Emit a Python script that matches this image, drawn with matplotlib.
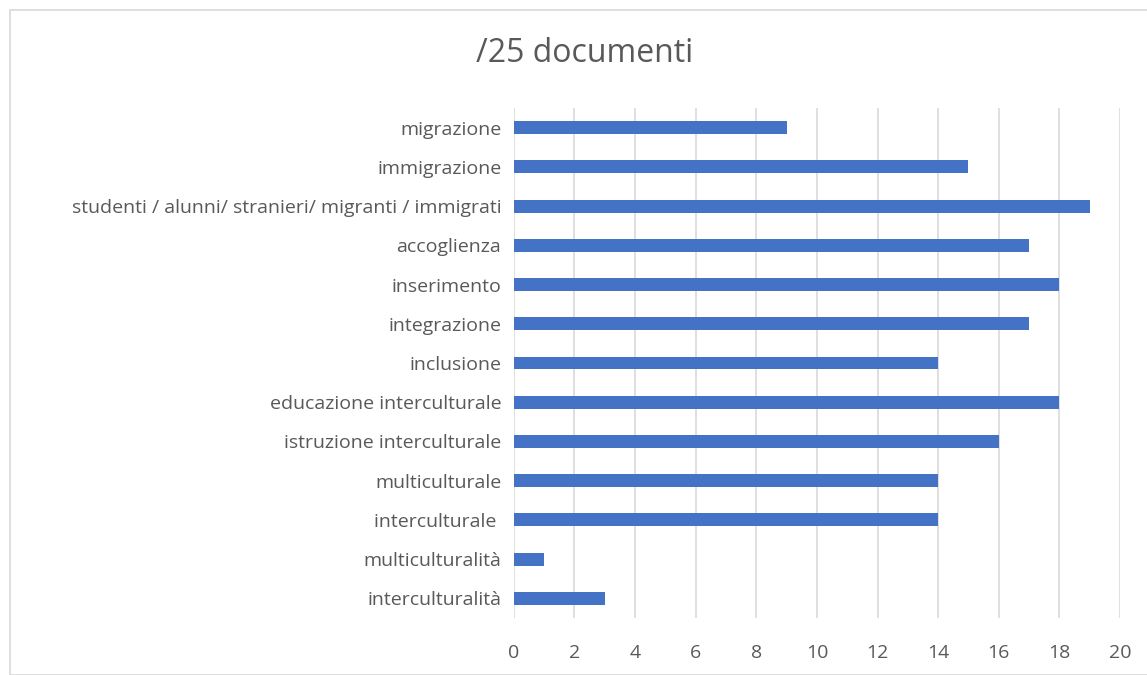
import matplotlib.pyplot as plt
from matplotlib.patches import Rectangle

categorie = ["interculturalità", "multiculturalità", "interculturale ", "multiculturale",
             "istruzione interculturale", "educazione interculturale", "inclusione",
             "integrazione", "inserimento", "accoglienza",
             "studenti / alunni/ stranieri/ migranti / immigrati", "immigrazione", "migrazione"]
valori = [3, 1, 14, 14, 16, 18, 14, 17, 18, 17, 19, 15, 9]
tick_x = [0, 2, 4, 6, 8, 10, 12, 14, 16, 18, 20]

plt.rcParams['font.family'] = ['Open Sans', 'DejaVu Sans']
testo = "#595959"

fig = plt.figure(figsize=(11.47, 6.75), dpi=100)
fig.patches.append(Rectangle((10 / 1147, 0), 1.2, 1 - 10 / 675, transform=fig.transFigure,
                             fill=False, edgecolor="#d9d9d9", linewidth=1.2))
ax = fig.add_axes([0.448, 0.0844, 0.5285, 0.7556])

ax.barh(range(len(categorie)), valori, height=0.33, color="#4472C4", zorder=3)
ax.set_ylim(-0.5, len(categorie) - 0.5)
ax.set_xlim(0, 20)
ax.set_xticks(tick_x)
ax.set_yticks(range(len(categorie)))
ax.set_yticklabels(categorie)
ax.grid(axis="x", color="#d9d9d9", linewidth=1.2, zorder=0)
for s in ax.spines.values():
    s.set_visible(False)
ax.tick_params(axis="both", length=0, labelsize=14, colors=testo)
ax.tick_params(axis="x", pad=19)
ax.tick_params(axis="y", pad=9)

fig.text(585 / 1147, 1 - 54 / 675, "/25 documenti", ha="center", va="center",
         fontsize=23, color=testo)

fig.savefig("out.png", dpi=100)
